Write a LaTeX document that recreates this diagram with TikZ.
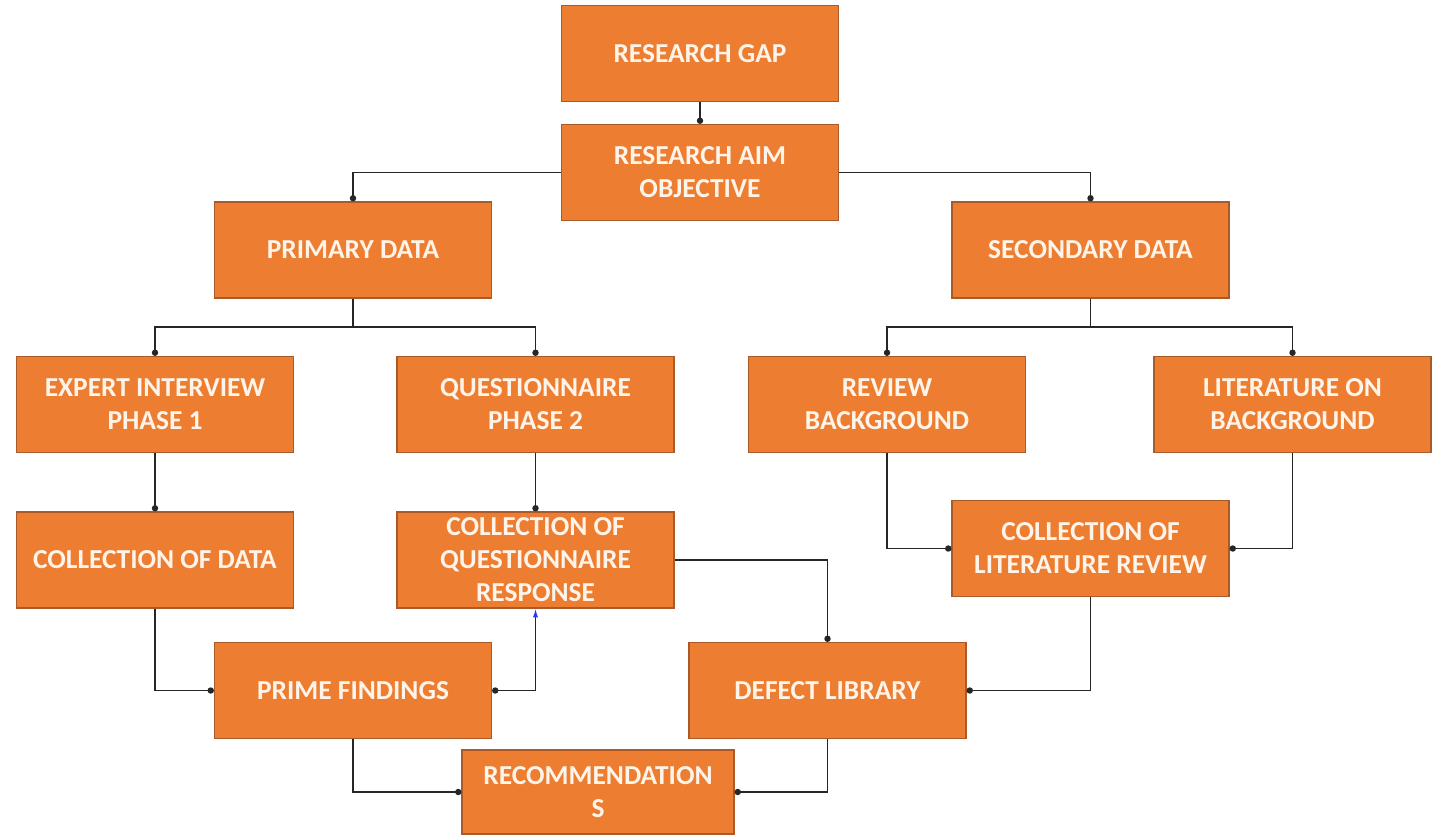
\documentclass[tikz,border=0pt]{standalone}
\usepackage{fontspec}
\setmainfont{Carlito}
\usetikzlibrary{arrows.meta}
\definecolor{boxfill}{HTML}{ED7D31}
\definecolor{boxline}{HTML}{A9592A}
\definecolor{boxtext}{HTML}{FFF4EA}
\begin{document}
\begin{tikzpicture}[
  x=0.02cm, y=-0.02cm,
  box/.style={draw=boxline, line width=0.7pt, fill=boxfill, text=boxtext,
    font=\fontsize{15.6}{18.8}\selectfont\bfseries, align=center,
    minimum width=5.54cm, minimum height=1.92cm, inner sep=2pt},
  conn/.style={line width=0.8pt, draw=black!85, -{Circle[length=3.6pt]}},
  line/.style={line width=0.8pt, draw=black!85}
]
  \useasboundingbox (0,0) rectangle (1435,836);

  % --- top ---
  \node[box] (gap) at (700,53.5) {RESEARCH GAP};
  \node[box] (aim) at (700,172.5) {RESEARCH AIM\\OBJECTIVE};

  % --- data sources ---
  \node[box] (primary) at (353,250) {PRIMARY DATA};
  \node[box] (secondary) at (1090.5,250) {SECONDARY DATA};

  % --- methods ---
  \node[box] (expert) at (155,404.5) {EXPERT INTERVIEW\\PHASE 1};
  \node[box] (quest) at (535.5,404.5) {QUESTIONNAIRE\\PHASE 2};
  \node[box] (review) at (887,404.5) {REVIEW\\BACKGROUND};
  \node[box] (literature) at (1292.5,404.5) {LITERATURE ON\\BACKGROUND};

  % --- collection ---
  \node[box] (colldata) at (155,560) {COLLECTION OF DATA};
  \node[box] (collq) at (535.5,560) {COLLECTION OF\\QUESTIONNAIRE\\RESPONSE};
  \node[box] (colllit) at (1090.5,548.5) {COLLECTION OF\\LITERATURE REVIEW};

  % --- results ---
  \node[box] (prime) at (353,690.5) {PRIME FINDINGS};
  \node[box] (defect) at (827.5,690.5) {DEFECT LIBRARY};
  \node[box, minimum width=5.44cm, minimum height=1.68cm] (recom) at (598,792) {RECOMMENDATION\\S};

  % --- connectors ---
  \coordinate (pfork) at (353,327);
  \coordinate (sfork) at (1090.5,327);
  \draw[conn] (gap) -- (aim);
  \draw[conn] (aim.west) -| (primary.north);
  \draw[conn] (aim.east) -| (secondary.north);
  \draw[line] (primary.south) -- (pfork);
  \draw[conn] (pfork) -| (expert.north);
  \draw[conn] (pfork) -| (quest.north);
  \draw[line] (secondary.south) -- (sfork);
  \draw[conn] (sfork) -| (review.north);
  \draw[conn] (sfork) -| (literature.north);
  \draw[conn] (expert) -- (colldata);
  \draw[conn] (quest) -- (collq);
  \draw[conn] (review.south) |- (colllit.west);
  \draw[conn] (literature.south) |- (colllit.east);
  \draw[conn] (colldata.south) |- (prime.west);
  \draw[conn, {Latex[blue!80, length=5pt, width=3pt]}-{Circle[length=3.6pt]}] (collq.south) |- (prime.east);
  \draw[conn] (collq.east) -| (defect.north);
  \draw[conn] (colllit.south) |- (defect.east);
  \draw[conn] (prime.south) |- (recom.west);
  \draw[conn] (defect.south) |- (recom.east);
\end{tikzpicture}
\end{document}
